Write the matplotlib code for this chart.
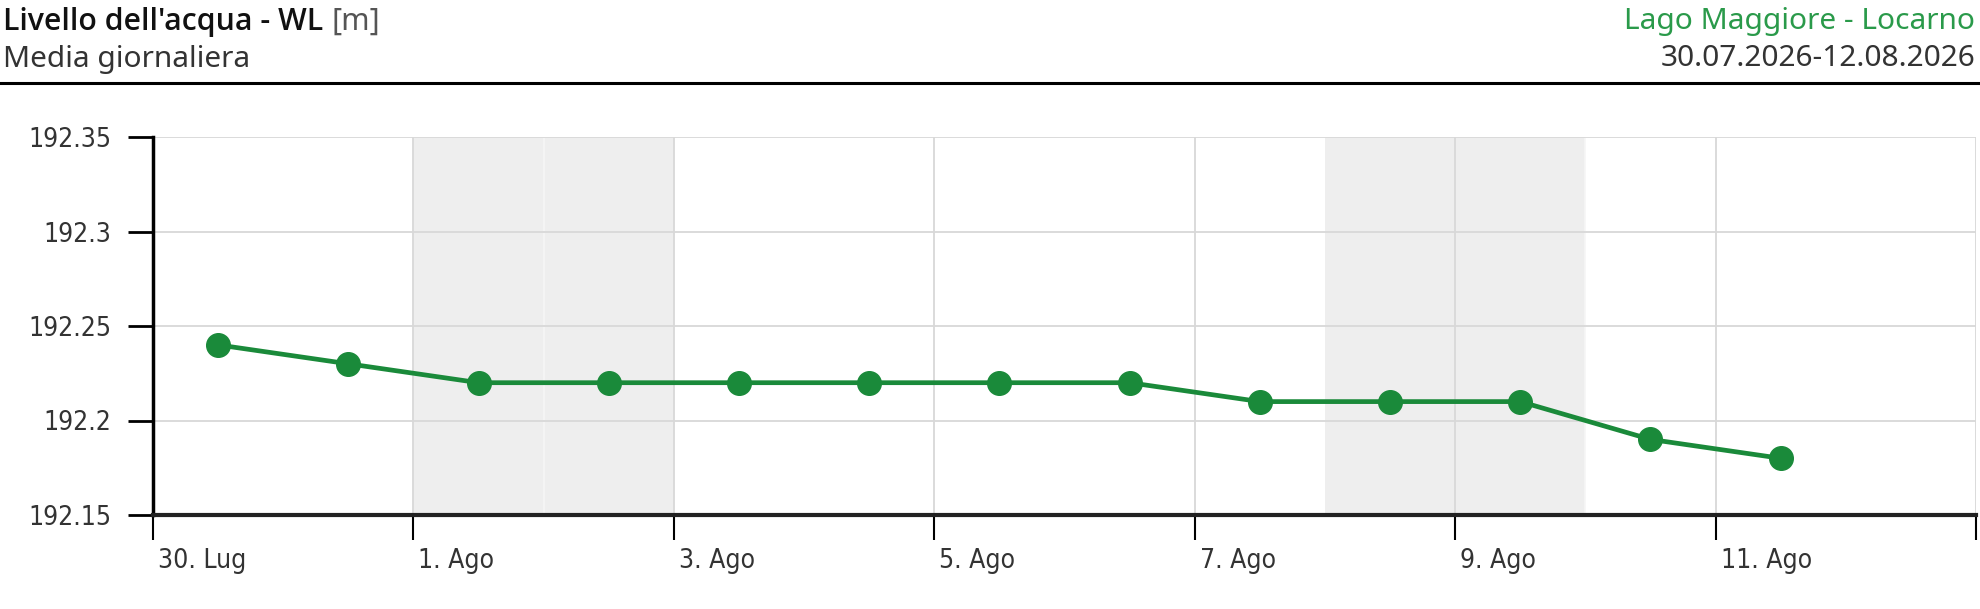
import datetime as dt
import matplotlib
matplotlib.use("Agg")
import matplotlib.pyplot as plt
import matplotlib.transforms as mtrans

# daily mean water level, Lago Maggiore - Locarno
days = [dt.datetime(2026, 7, 30) + dt.timedelta(days=i) for i in range(13)]
levels = [192.24, 192.23, 192.22, 192.22, 192.22, 192.22, 192.22,
          192.22, 192.21, 192.21, 192.21, 192.19, 192.18]
weekends = [dt.datetime(2026, 8, 1), dt.datetime(2026, 8, 2),
            dt.datetime(2026, 8, 8), dt.datetime(2026, 8, 9)]
yticks = [192.15, 192.2, 192.25, 192.3, 192.35]
ytick_labels = ["192.15", "192.2", "192.25", "192.3", "192.35"]
xticks = [dt.datetime(2026, 7, 30) + dt.timedelta(days=2 * i) for i in range(8)]
xtick_labels = ["30. Lug", "1. Ago", "3. Ago", "5. Ago", "7. Ago", "9. Ago", "11. Ago", ""]

GREEN = "#1a8a3a"
HEAD_FONT = ["Noto Sans", "DejaVu Sans"]
BOLD_FONT = ["Open Sans", "Roboto", "DejaVu Sans"]

fig = plt.figure(figsize=(19.8, 6.09), dpi=100)
ax = fig.add_axes([153 / 1980, 1 - 515 / 609, 1823 / 1980, 378 / 609])

one_day = dt.timedelta(days=1)
half_day = dt.timedelta(hours=12)

for d in weekends:
    ax.axvspan(d, d + one_day, color="#eeeeee", lw=0, zorder=0)
    ax.axvline(d + one_day, color="#f6f6f6", lw=1.2, zorder=0.5)

ax.plot([d + half_day for d in days], levels, color=GREEN, lw=3.4,
        marker="o", markersize=17, zorder=3)

ax.set_xlim(dt.datetime(2026, 7, 30), dt.datetime(2026, 8, 13))
ax.set_ylim(192.15, 192.35)
ax.set_xticks(xticks)
ax.set_xticklabels(xtick_labels, fontfamily="DejaVu Sans", fontstretch="condensed",
                   fontsize=19, color="#333333", ha="left")
ax.set_yticks(yticks)
ax.set_yticklabels(ytick_labels, fontfamily="DejaVu Sans", fontstretch="condensed",
                   fontsize=19, color="#333333")
ax.tick_params(axis="x", length=18, width=1.5, pad=6, color="black")
ax.tick_params(axis="y", length=18, width=2, pad=12, color="black")
ax.grid(True, color="#d8d8d8", lw=1.3, zorder=1)
ax.set_axisbelow(True)

for side in ("top", "right"):
    ax.spines[side].set_visible(False)
ax.spines["left"].set_linewidth(2.5)
ax.spines["left"].set_color("black")
ax.spines["bottom"].set_linewidth(3)
ax.spines["bottom"].set_color("#222222")
ax.spines["left"].set_zorder(4)
ax.spines["bottom"].set_zorder(4)

# shift x labels a bit right of their ticks
offset = mtrans.ScaledTranslation(5 / 100, 0, fig.dpi_scale_trans)
for lab in ax.get_xticklabels():
    lab.set_transform(lab.get_transform() + offset)

# header
title = fig.text(3 / 1980, 1 - 22 / 609, "Livello dell'acqua - WL", fontfamily=BOLD_FONT,
                 fontsize=21.8, fontweight=600, color="#111111", va="center", ha="left")
fig.canvas.draw()
bb = title.get_window_extent()
fig.text((bb.x1 + 8) / 1980, 1 - 22 / 609, "[m]", fontfamily=HEAD_FONT, fontsize=22,
         color="#555555", va="center", ha="left")
fig.text(3 / 1980, 1 - 59 / 609, "Media giornaliera", fontfamily=HEAD_FONT,
         fontsize=21.5, color="#333333", va="center", ha="left")
fig.text(1975 / 1980, 1 - 22 / 609, "Lago Maggiore - Locarno", fontfamily=HEAD_FONT,
         fontsize=21.5, color="#2a9a4a", va="center", ha="right")
fig.text(1975 / 1980, 1 - 59 / 609, "30.07.2026-12.08.2026", fontfamily=HEAD_FONT,
         fontsize=21.5, color="#333333", va="center", ha="right")
fig.add_artist(plt.Line2D([0, 1], [1 - 83 / 609, 1 - 83 / 609], color="black", lw=2.2,
                          transform=fig.transFigure))

fig.savefig("out.png", dpi=100)
